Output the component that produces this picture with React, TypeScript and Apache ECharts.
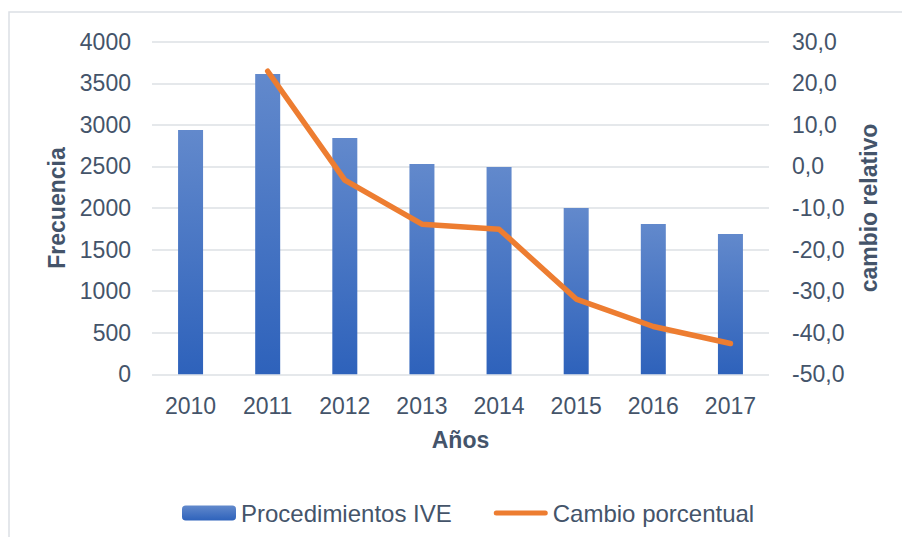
import React, { useEffect, useRef } from "react";
import * as echarts from "echarts";

const years = ["2010", "2011", "2012", "2013", "2014", "2015", "2016", "2017"];
const procedimientos = [2938, 3612, 2842, 2529, 2493, 2000, 1808, 1687];
const cambio = [null, 22.9, -3.3, -13.9, -15.1, -31.9, -38.5, -42.6];

const TEXT = "#44546A";
const FONT = "Liberation Sans, Arial, sans-serif";

export default function App() {
  const ref = useRef<HTMLDivElement>(null);
  useEffect(() => {
    document.body.style.margin = "0";
    const chart = echarts.init(ref.current!, null, { renderer: "svg" });
    chart.setOption({
      animation: false,
      backgroundColor: "#ffffff",
      textStyle: { fontFamily: FONT, color: TEXT },
      graphic: [
        {
          type: "rect",
          shape: { x: 9, y: 12, width: 920, height: 560 },
          style: { fill: "none", stroke: "#DCE0E5", lineWidth: 1.5 },
          silent: true,
        },
      ],
      grid: { left: 152, right: 133, top: 41.7, bottom: 162.7, containLabel: false },
      legend: {
        left: 182,
        top: 501,
        padding: 0,
        itemWidth: 54,
        itemHeight: 15,
        itemGap: 42,
        itemTextGap: 5,
        textStyle: { fontSize: 24, color: TEXT, fontFamily: FONT },
        data: [
          { name: "Procedimientos IVE" },
          {
            name: "Cambio porcentual",
            icon: "path://M0,0 M0,15 M2.5,5 L51.5,5 A2.5,2.5 0 0 1 51.5,10 L2.5,10 A2.5,2.5 0 0 1 2.5,5 Z M54,0",
            itemStyle: { color: "#ED7D31" },
          },
        ],
      },
      xAxis: {
        type: "category",
        data: years,
        name: "Años",
        nameLocation: "middle",
        nameGap: 54,
        nameTextStyle: { fontSize: 23, fontWeight: "bold", color: TEXT, fontFamily: FONT },
        axisLine: { show: false },
        axisTick: { show: false },
        axisLabel: { fontSize: 23, color: TEXT, margin: 20, fontFamily: FONT },
      },
      yAxis: [
        {
          type: "value",
          min: 0,
          max: 4000,
          interval: 500,
          name: "Frecuencia",
          nameLocation: "middle",
          nameGap: 79,
          nameTextStyle: { fontSize: 23, fontWeight: "bold", color: TEXT, fontFamily: FONT },
          axisLine: { show: false },
          axisTick: { show: false },
          axisLabel: {
            fontSize: 23,
            color: TEXT,
            margin: 21,
            fontFamily: FONT,
            formatter: (v: number) => String(v),
          },
          splitLine: { lineStyle: { color: "#DCE0E5", width: 1.5 } },
        },
        {
          type: "value",
          min: -50,
          max: 30,
          interval: 10,
          name: "cambio relativo",
          nameLocation: "middle",
          nameGap: 88,
          nameTextStyle: { fontSize: 23, fontWeight: "bold", color: TEXT, fontFamily: FONT },
          axisLine: { show: false },
          axisTick: { show: false },
          axisLabel: {
            fontSize: 23,
            color: TEXT,
            margin: 23,
            fontFamily: FONT,
            formatter: (v: number) => v.toFixed(1).replace(".", ","),
          },
          splitLine: { show: false },
        },
      ],
      series: [
        {
          name: "Procedimientos IVE",
          type: "bar",
          data: procedimientos,
          barWidth: 25,
          itemStyle: {
            color: new echarts.graphic.LinearGradient(0, 0, 0, 1, [
              { offset: 0, color: "#6289CC" },
              { offset: 1, color: "#2E62BB" },
            ]),
          },
        },
        {
          name: "Cambio porcentual",
          type: "line",
          yAxisIndex: 1,
          data: cambio,
          symbol: "none",
          z: 5,
          lineStyle: { color: "#ED7D31", width: 5.5, cap: "round", join: "round" },
          itemStyle: { color: "#ED7D31" },
        },
      ],
    });
    return () => chart.dispose();
  }, []);
  return <div ref={ref} style={{ width: 902, height: 537 }} />;
}
